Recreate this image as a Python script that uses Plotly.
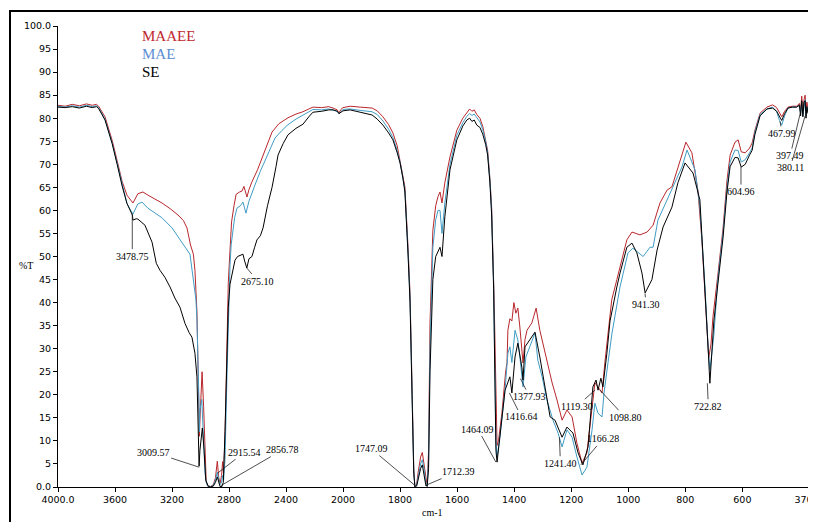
import plotly.graph_objects as go

# ---------------- data ----------------
maaee_wn = [4000, 3950, 3900, 3850, 3800, 3760, 3730, 3715, 3670, 3620, 3585, 3550, 3516, 3474, 3440, 3404, 3368, 3320, 3270, 3210, 3158, 3120, 3095, 3070, 3050, 3039, 3025, 3016, 3008, 3004, 2989, 2978, 2968, 2960, 2950, 2930, 2910, 2895, 2882, 2872, 2863, 2852, 2845, 2838, 2828, 2816, 2805, 2793, 2782, 2765, 2750, 2725, 2709, 2695, 2685, 2674, 2660, 2639, 2600, 2568, 2530, 2498, 2450, 2386, 2330, 2281, 2240, 2211, 2150, 2100, 2070, 2040, 2028, 2015, 2000,
            1975, 1940, 1898, 1880, 1860, 1840, 1825, 1810, 1800, 1790, 1783, 1772, 1765, 1758, 1752, 1748, 1742, 1737, 1728, 1722, 1716, 1710, 1705, 1700, 1695, 1685, 1675, 1667, 1660, 1653, 1643, 1625, 1601, 1580, 1566, 1556, 1548, 1540, 1531, 1520, 1510, 1500, 1493, 1485, 1479, 1470, 1465, 1460, 1455, 1443, 1430, 1425, 1422, 1415, 1408, 1401, 1394, 1387, 1380, 1373, 1369, 1362, 1355, 1338, 1323, 1310, 1292, 1267, 1250, 1232, 1215, 1197, 1180, 1162, 1145, 1127, 1117, 1106, 1092, 1082, 1071, 1058, 1040, 1005, 987, 959, 934, 913, 889, 864, 847, 819, 798, 777, 756, 742, 731, 724, 718, 710, 703, 686, 668, 654, 643, 626, 615, 604, 590, 575, 566, 556, 538, 514, 494, 480, 470, 462, 452, 440, 425, 410, 400, 396, 392, 388, 384, 380, 377, 374, 370]
maaee_t = [82.8, 82.6, 83.0, 82.7, 83.1, 82.8, 83.0, 82.6, 80.3, 75.2, 70.8, 66.3, 63.3, 61.6, 63.6, 64.0, 63.3, 62.5, 61.6, 60.3, 59.0, 57.8, 56.2, 52.5, 50.5, 47.0, 38.0, 24.0, 11.0, 14.5, 25.0, 17.4, 5.0, 1.2, 0.3, 0.1, 0.5, 2.0, 5.6, 2.0, 0.8, 2.5, 5.5, 3.0, 10.8, 29.7, 44.3, 51.4, 57.5, 61.0, 63.5, 64.0, 64.2, 65.2, 64.0, 62.9, 64.5, 66.2, 68.8, 71.4, 74.3, 77.0, 78.8, 80.1, 80.9, 81.4, 82.0, 82.4, 82.3, 82.5, 82.2, 81.8, 81.1, 81.9, 82.3,
           82.6, 82.4, 82.2, 81.6, 80.3, 78.6, 76.8, 74.0, 70.9, 67.5, 65.1, 52.0, 42.0, 22.0, 4.0, 0.2, 0.5, 3.0, 6.5, 7.5, 5.0, 1.5, 0.3, 8.0, 35.5, 55.7, 61.0, 63.0, 64.0, 61.6, 66.0, 71.6, 77.4, 80.0, 81.3, 82.0, 81.5, 81.8, 80.8, 80.0, 78.2, 75.5, 73.0, 67.0, 60.7, 40.0, 20.0, 9.0, 10.0, 16.0, 25.0, 27.0, 34.0, 36.5, 36.0, 40.0, 37.7, 38.8, 34.7, 29.0, 26.9, 32.0, 34.0, 35.6, 38.8, 34.0, 29.0, 22.6, 18.9, 14.5, 16.7, 15.2, 9.5, 5.2, 7.4, 17.4, 22.6, 21.7, 20.4, 27.0, 34.0, 40.6, 45.0, 53.6, 55.3, 54.7, 55.3, 56.8, 61.6, 64.4, 65.1, 70.9, 74.8, 72.5, 64.4, 53.6, 40.6, 32.0, 28.0, 31.0, 37.0, 46.0, 56.0, 66.5, 72.0, 74.8, 75.3, 72.7, 72.5, 73.5, 74.6, 77.4, 81.1, 82.4, 82.9, 82.3, 81.0, 80.3, 81.5, 82.4, 82.6, 82.6, 83.2, 81.5, 84.8, 81.0, 84.0, 85.0, 81.5, 83.5, 82.0]

mae_wn = [4000, 3950, 3900, 3850, 3800, 3760, 3730, 3715, 3670, 3620, 3585, 3550, 3516, 3490, 3474, 3440, 3410, 3370, 3320, 3270, 3200, 3130, 3100, 3074, 3050, 3032, 3025, 3018, 3012, 3008, 3004, 2991, 2980, 2968, 2960, 2950, 2930, 2910, 2895, 2882, 2872, 2863, 2852, 2845, 2838, 2828, 2816, 2805, 2793, 2785, 2772, 2760, 2744, 2720, 2702, 2692, 2681, 2660, 2640, 2618, 2580, 2547, 2510, 2477, 2430, 2386, 2330, 2281, 2240, 2211, 2150, 2100, 2070, 2040, 2028, 2015, 2000,
          1975, 1940, 1898, 1880, 1860, 1840, 1825, 1810, 1800, 1790, 1783, 1772, 1765, 1758, 1752, 1748, 1742, 1737, 1728, 1722, 1716, 1710, 1705, 1700, 1695, 1685, 1675, 1667, 1660, 1653, 1643, 1625, 1601, 1580, 1566, 1556, 1548, 1540, 1531, 1520, 1510, 1500, 1493, 1485, 1479, 1472, 1468, 1464, 1460, 1450, 1432, 1422, 1415, 1408, 1397, 1387, 1380, 1369, 1359, 1345, 1327, 1317, 1302, 1285, 1264, 1246, 1232, 1215, 1197, 1180, 1162, 1145, 1127, 1117, 1106, 1092, 1085, 1071, 1057, 1029, 1001, 984, 948, 924, 913, 896, 864, 836, 812, 794, 766, 749, 731, 720, 714, 707, 700, 686, 668, 654, 643, 626, 615, 604, 590, 575, 566, 556, 538, 514, 494, 480, 470, 462, 452, 440, 425, 410, 400, 396, 392, 388, 384, 380, 377, 374, 370]
mae_t = [82.6, 82.4, 82.7, 82.4, 82.8, 82.5, 82.7, 82.3, 79.8, 74.6, 70.3, 65.5, 61.5, 60.0, 59.2, 61.4, 61.8, 60.5, 59.4, 58.4, 56.2, 53.1, 51.8, 50.5, 44.9, 40.6, 36.2, 29.7, 20.0, 12.0, 16.7, 19.0, 10.8, 3.0, 1.0, 0.2, 0.1, 0.3, 1.5, 3.2, 1.5, 0.5, 1.0, 2.5, 1.5, 6.0, 22.0, 38.0, 48.0, 52.5, 56.2, 58.5, 60.5, 61.0, 61.8, 60.5, 59.4, 62.0, 63.5, 65.5, 68.5, 70.9, 73.5, 75.7, 77.3, 78.6, 79.8, 80.7, 81.5, 81.9, 81.8, 82.0, 81.8, 81.5, 80.9, 81.5, 81.9,
         82.0, 81.7, 81.4, 80.8, 79.4, 77.6, 75.8, 73.0, 70.5, 67.0, 64.5, 51.0, 41.0, 21.0, 3.5, 0.1, 0.3, 2.0, 5.0, 5.9, 4.0, 1.0, 0.2, 6.0, 30.0, 52.0, 58.0, 60.0, 60.0, 55.0, 61.6, 70.0, 76.3, 79.0, 80.4, 81.0, 80.6, 80.9, 80.0, 79.2, 77.5, 75.0, 72.5, 66.5, 60.0, 44.0, 26.0, 10.0, 6.5, 10.8, 21.0, 29.0, 30.4, 27.0, 34.0, 31.9, 28.2, 21.7, 28.2, 30.4, 33.4, 27.5, 23.9, 18.9, 14.5, 11.7, 8.7, 12.4, 10.8, 6.5, 2.6, 4.3, 12.4, 18.2, 16.0, 15.2, 20.4, 27.0, 33.4, 43.4, 50.8, 51.8, 50.0, 52.0, 52.0, 57.9, 62.3, 66.0, 69.4, 73.1, 68.8, 60.7, 43.4, 30.0, 25.5, 29.0, 33.0, 45.0, 55.0, 65.0, 70.5, 73.1, 73.0, 70.5, 71.0, 72.5, 73.5, 77.0, 80.8, 82.0, 82.4, 81.5, 79.5, 78.5, 80.5, 82.2, 82.4, 82.4, 82.8, 81.0, 83.5, 80.5, 83.0, 84.0, 80.5, 82.5, 81.5]

se_wn = [4000, 3950, 3900, 3850, 3800, 3760, 3730, 3715, 3670, 3620, 3585, 3550, 3516, 3490, 3478, 3474, 3450, 3439, 3390, 3340, 3310, 3284, 3250, 3214, 3180, 3144, 3109, 3080, 3060, 3039, 3025, 3018, 3010, 3004, 2997, 2987, 2975, 2963, 2945, 2930, 2910, 2895, 2882, 2872, 2863, 2850, 2840, 2828, 2816, 2805, 2793, 2779, 2758, 2740, 2723, 2702, 2690, 2675, 2660, 2639, 2620, 2604, 2580, 2561, 2530, 2498, 2470, 2456, 2420, 2386, 2330, 2281, 2240, 2211, 2150, 2100, 2070, 2040, 2028, 2015, 2000,
         1975, 1940, 1898, 1880, 1860, 1840, 1825, 1810, 1800, 1790, 1783, 1772, 1765, 1758, 1752, 1748, 1742, 1737, 1728, 1722, 1716, 1710, 1705, 1700, 1695, 1685, 1675, 1667, 1660, 1653, 1643, 1625, 1601, 1580, 1566, 1556, 1548, 1540, 1531, 1520, 1510, 1500, 1493, 1485, 1479, 1472, 1468, 1464, 1460, 1450, 1432, 1415, 1408, 1397, 1387, 1373, 1369, 1362, 1345, 1327, 1310, 1292, 1274, 1257, 1232, 1215, 1194, 1176, 1159, 1141, 1124, 1113, 1106, 1096, 1089, 1075, 1064, 1040, 1029, 1005, 987, 970, 952, 941, 917, 899, 878, 847, 826, 801, 773, 749, 731, 720, 714, 707, 700, 686, 668, 654, 643, 626, 615, 604, 590, 575, 566, 556, 538, 514, 494, 480, 470, 462, 452, 440, 425, 410, 400, 396, 392, 388, 384, 380, 377, 374, 370]
se_t = [82.4, 82.3, 82.5, 82.2, 82.6, 82.3, 82.5, 82.1, 79.6, 74.5, 70.0, 65.3, 61.5, 59.8, 59.0, 57.9, 58.2, 58.1, 56.8, 53.1, 48.5, 47.0, 45.5, 43.4, 41.0, 39.0, 35.5, 33.5, 32.5, 29.0, 23.9, 15.0, 4.5, 8.0, 10.2, 12.8, 8.0, 1.5, 0.1, 0.0, 0.2, 1.0, 2.2, 0.8, 0.1, 0.1, 1.0, 12.0, 28.0, 39.0, 44.0, 46.4, 49.2, 50.0, 50.3, 50.5, 49.0, 47.5, 49.5, 50.0, 52.0, 53.6, 54.5, 56.2, 61.0, 65.0, 69.5, 72.0, 74.5, 76.4, 77.8, 78.7, 80.3, 81.3, 81.5, 81.8, 81.8, 81.5, 81.0, 81.3, 81.6,
        81.8, 81.3, 80.7, 79.8, 78.5, 76.8, 75.3, 72.5, 70.3, 67.0, 64.0, 50.5, 40.0, 20.0, 3.0, 0.0, 0.2, 1.5, 4.0, 4.8, 3.0, 0.5, 0.1, 4.0, 25.0, 45.0, 50.0, 51.0, 52.0, 50.0, 58.6, 68.8, 75.3, 78.3, 79.6, 80.0, 79.3, 79.6, 78.5, 78.0, 76.5, 74.3, 72.0, 66.0, 59.0, 43.0, 25.0, 8.0, 5.4, 10.8, 21.0, 23.9, 20.4, 28.2, 31.2, 26.0, 23.2, 30.4, 31.9, 33.6, 28.2, 21.7, 15.2, 14.5, 10.8, 13.0, 11.7, 7.4, 4.8, 8.7, 21.7, 23.2, 21.0, 23.6, 21.7, 29.0, 36.0, 43.4, 46.4, 52.0, 52.9, 50.8, 46.4, 42.1, 45.0, 51.4, 56.4, 60.7, 66.0, 70.3, 68.1, 62.3, 43.4, 30.0, 22.5, 30.0, 36.0, 44.0, 54.0, 64.0, 69.5, 71.5, 71.4, 69.4, 70.0, 72.0, 73.0, 76.5, 80.5, 82.0, 82.2, 81.5, 80.3, 79.5, 81.0, 82.2, 82.4, 82.4, 82.8, 80.5, 83.8, 80.3, 83.5, 83.8, 80.0, 82.5, 81.0]

series_names = ["MAAEE", "MAE", "SE"]

# peak labels: wavenumber text and the point the leader line reaches
peak_labels = ["3478.75", "3009.57", "2915.54", "2856.78", "2675.10", "1747.09", "1712.39", "1464.09",
               "1416.64", "1377.93", "1241.40", "1166.28", "1119.30", "1098.80", "941.30", "722.82",
               "604.96", "467.99", "397.49", "380.11"]
peak_wn = [3478.75, 3009.57, 2880, 2856.78, 2675.10, 1747.09, 1712.39, 1464.09,
           1416.64, 1377.93, 1241.40, 1166.28, 1117.0, 1098.80, 941.30, 722.82,
           604.96, 467.99, 397.49, 380.11]
peak_t = [59.2, 4.3, 3.0, 0.3, 47.5, 0.3, 0.3, 5.4,
          20.4, 23.5, 10.8, 4.8, 21.0, 21.0, 42.0, 22.5,
          69.5, 79.3, 81.0, 80.5]

x_hi_ticks = [4000, 3600, 3200, 2800, 2400, 2000]
x_hi_text = ["4000.0", "3600", "3200", "2800", "2400", "2000"]
x_lo_ticks = [1800, 1600, 1400, 1200, 1000, 800, 600, 370]
x_lo_text = ["1800", "1600", "1400", "1200", "1000", "800", "600", "370.0"]
y_ticks = list(range(0, 101, 5))
y_text = ["0.0"] + [str(v) for v in range(5, 100, 5)] + ["100.0"]

# ---------------- styling / layout ----------------
line_colors = ["#b8272c", "#3f9cc4", "#000000"]
text_colors = ["#c0282d", "#5d8dd3", "#000000"]
label_offsets = [(0, 42), (-46, -15), (27, -21), (62, -36), (11, 13), (-44, -37), (33, -14), (-18, -33),
                 (12, 24), (9, 18), (1, 26), (22, -26), (-18, 16), (25, 27), (1, 11), (1, 23),
                 (0, 25), (2, 12), (-10, 42), (-15, 52)]

fig = go.Figure()
all_series = [(maaee_wn, maaee_t), (mae_wn, mae_t), (se_wn, se_t)]
for (wn, t), name, col in zip(all_series, series_names, line_colors):
    hi = [(w, v) for w, v in zip(wn, t) if w >= 2000]
    lo = [(w, v) for w, v in zip(wn, t) if w <= 2000]
    fig.add_trace(go.Scatter(x=[p[0] for p in hi], y=[p[1] for p in hi], mode="lines",
                             line=dict(color=col, width=1), name=name, showlegend=False,
                             xaxis="x", yaxis="y"))
    fig.add_trace(go.Scatter(x=[p[0] for p in lo], y=[p[1] for p in lo], mode="lines",
                             line=dict(color=col, width=1), name=name, showlegend=False,
                             xaxis="x2", yaxis="y"))

annotations = []
for lab, w, v, (ax, ay) in zip(peak_labels, peak_wn, peak_t, label_offsets):
    annotations.append(dict(x=w, y=v, xref="x" if w >= 2000 else "x2", yref="y",
                            text=lab, showarrow=True, arrowhead=0, arrowwidth=0.8,
                            arrowcolor="#222222", ax=ax, ay=ay, standoff=0,
                            font=dict(family="Liberation Serif", size=10, color="#000")))

# plot area in page pixels: x 58..808, y 26..487 (page body has an 8px margin)
for i, (name, col) in enumerate(zip(series_names, text_colors)):
    annotations.append(dict(x=(140 - 58) / 750, y=(487 - 36 - 18 * i) / 461, xref="paper", yref="paper",
                            text=name, showarrow=False, xanchor="left", yanchor="middle",
                            font=dict(family="Liberation Serif", size=15, color=col)))

annotations.append(dict(x=(26 - 58) / 750, y=(487 - 265) / 461, xref="paper", yref="paper", text="%T",
                        showarrow=False, xanchor="center", yanchor="middle",
                        font=dict(family="Liberation Serif", size=10, color="#000")))
annotations.append(dict(x=(432 - 58) / 750, y=(487 - 513) / 461, xref="paper", yref="paper", text="cm-1",
                        showarrow=False, xanchor="center", yanchor="middle",
                        font=dict(family="Liberation Serif", size=10, color="#000")))

tick_font = dict(family="DejaVu Sans", size=9.5, color="#000")
axis_common = dict(showline=True, linecolor="#000", linewidth=1, ticks="outside", ticklen=4,
                   tickcolor="#000", showgrid=False, zeroline=False, tickfont=tick_font,
                   automargin=False, ticklabeloverflow="allow")

fig.update_layout(
    width=808, height=514,
    margin=dict(l=50, r=8, t=18, b=35),
    paper_bgcolor="white", plot_bgcolor="white",
    xaxis=dict(domain=[0, 0.38], range=[4000, 2000], tickmode="array", tickvals=x_hi_ticks,
               ticktext=x_hi_text, anchor="y", **axis_common),
    xaxis2=dict(domain=[0.38, 1], range=[2000, 370], tickmode="array", tickvals=x_lo_ticks,
                ticktext=x_lo_text, anchor="y", **axis_common),
    yaxis=dict(range=[0, 100], tickmode="array", tickvals=y_ticks, ticktext=y_text,
               anchor="x", **axis_common),
    annotations=annotations,
    shapes=[dict(type="rect", xref="paper", yref="paper", x0=(10 - 58) / 750, x1=1.2,
                 y0=-0.3, y1=(487 - 11) / 461, line=dict(color="#000", width=2), layer="below")],
    showlegend=False,
)

fig.write_html("out.html")
